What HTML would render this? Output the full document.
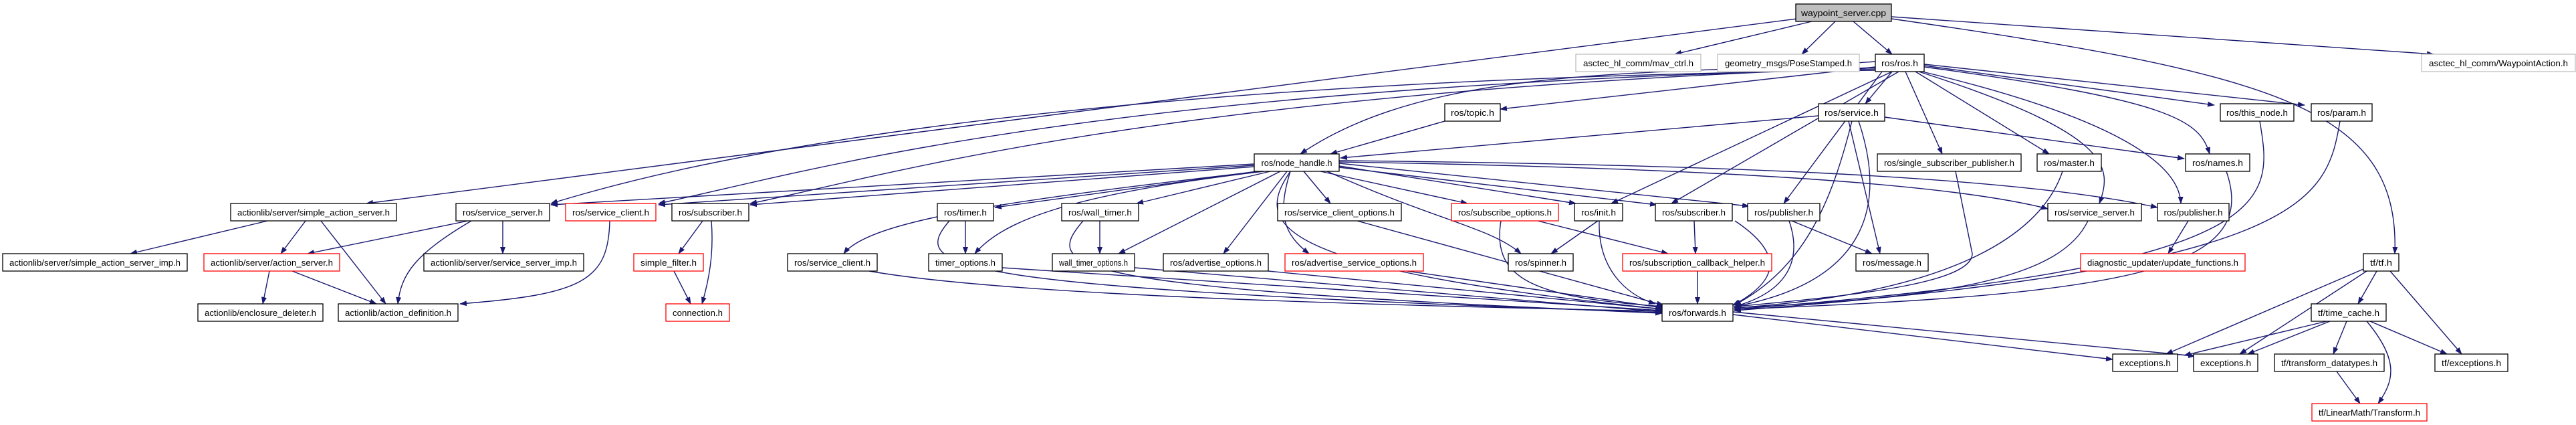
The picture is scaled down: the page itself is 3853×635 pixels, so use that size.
<!DOCTYPE html>
<html><head><meta charset="utf-8"><style>
html,body{margin:0;padding:0;background:#fff;}
svg{display:block;}
text{font-family:"Liberation Sans",sans-serif;font-size:13px;fill:#000;}
.e{fill:none;stroke:#191970;stroke-width:1.4;marker-end:url(#ar);}
.n{fill:#fff;stroke:#000;stroke-width:1.3;}
.r{fill:#fff;stroke:#ff0000;stroke-width:1.3;}
.g{fill:#fff;stroke:#bfbfbf;stroke-width:1.3;}
</style></head><body>
<svg width="3853" height="635" viewBox="0 0 3853 635" xmlns="http://www.w3.org/2000/svg">
<defs><marker id="ar" markerWidth="11" markerHeight="8" refX="10" refY="4" orient="auto" markerUnits="userSpaceOnUse"><path d="M0,0 L11,4 L0,8 z" fill="#191970"/></marker></defs>
<g>
<!-- waypoint edges -->
<path class="e" d="M2688,28 L548,304"/>
<path class="e" d="M2710,32 L2505,81"/>
<path class="e" d="M2745,32 L2695,81"/>
<path class="e" d="M2772,32 L2830,81"/>
<path class="e" d="M2829,25 L3640,81"/>
<path class="e" d="M2829,28 C3400,110 3590,160 3582,379"/>
<!-- ros.h edges -->
<path class="e" d="M2805,100 L2244,163"/>
<path class="e" d="M2830,107 L2790,155"/>
<path class="e" d="M2878,98 L3312,157"/>
<path class="e" d="M2878,96 L3447,157"/>
<path class="e" d="M2805,92 C2500,115 2150,90 1945,230"/>
<path class="e" d="M2850,107 L2905,230"/>
<path class="e" d="M2865,107 L3065,230"/>
<path class="e" d="M2878,100 C3250,150 3290,180 3305,230"/>
<path class="e" d="M2830,107 L2410,304"/>
<path class="e" d="M2840,107 L2500,304"/>
<path class="e" d="M2815,107 L2668,304"/>
<path class="e" d="M2870,107 C3160,200 3160,250 3140,304"/>
<path class="e" d="M2875,107 C3180,180 3260,250 3262,304"/>
<path class="e" d="M2805,105 C1500,120 1000,250 824,304"/>
<path class="e" d="M2805,103 C1600,130 1200,260 985,304"/>
<path class="e" d="M2805,101 C1700,140 1300,270 1122,304"/>
<!-- service/topic -->
<path class="e" d="M2720,173 L2005,236"/>
<path class="e" d="M2819,175 L3267,237"/>
<path class="e" d="M2765,181 L2812,379"/>
<path class="e" d="M2770,181 C2740,300 2700,400 2594,456"/>
<path class="e" d="M2780,181 C2820,300 2800,420 2594,458"/>
<path class="e" d="M2161,181 L1990,230"/>
<path class="e" d="M3380,181 C3400,300 3420,400 2594,462"/>
<path class="e" d="M3500,181 C3480,300 3450,400 2594,464"/>
<path class="e" d="M2925,256 L2950,379 C2950,420 2800,440 2594,458"/>
<path class="e" d="M3085,256 C3050,360 2900,440 2594,460"/>
<path class="e" d="M3330,256 C3380,400 3200,440 2594,462"/>
<!-- node_handle edges -->
<path class="e" d="M1876,245 L824,306"/>
<path class="e" d="M1876,247 L985,306"/>
<path class="e" d="M1876,249 L1122,306"/>
<path class="e" d="M1885,256 C1500,300 1300,330 1262,379"/>
<path class="e" d="M1880,256 L1488,310"/>
<path class="e" d="M1890,256 C1600,290 1500,330 1458,379"/>
<path class="e" d="M1900,256 L1700,304"/>
<path class="e" d="M1915,256 L1673,379"/>
<path class="e" d="M1925,256 L1830,379"/>
<path class="e" d="M1930,256 C1910,320 1920,350 1958,379"/>
<path class="e" d="M1950,256 L1990,304"/>
<path class="e" d="M1975,256 L2195,304"/>
<path class="e" d="M2003,248 L2357,304"/>
<path class="e" d="M2003,250 L2478,306"/>
<path class="e" d="M2003,244 L2616,308"/>
<path class="e" d="M2003,242 C2500,250 2900,270 3063,312"/>
<path class="e" d="M2003,240 C2500,245 3000,260 3227,310"/>
<path class="e" d="M1985,256 C2150,330 2230,340 2275,379"/>
<path class="e" d="M1930,256 C1880,330 1880,400 2488,462"/>
<!-- left subgraph -->
<path class="e" d="M400,330 L195,379"/>
<path class="e" d="M457,330 L420,379"/>
<path class="e" d="M480,330 L577,454"/>
<path class="e" d="M700,330 L460,379"/>
<path class="e" d="M705,330 C620,380 600,410 595,454"/>
<path class="e" d="M752,330 L752,379"/>
<path class="e" d="M912,330 C910,420 870,440 688,454"/>
<path class="e" d="M1051,330 L1015,379"/>
<path class="e" d="M1064,330 C1068,380 1060,420 1050,454"/>
<path class="e" d="M1008,405 L1033,454"/>
<path class="e" d="M403,405 L393,454"/>
<path class="e" d="M437,405 L563,454"/>
<!-- row4/5 to forwards -->
<path class="e" d="M1300,405 C1500,440 2000,455 2486,465"/>
<path class="e" d="M1420,330 C1360,400 1400,430 2486,467"/>
<path class="e" d="M1444,330 L1444,379"/>
<path class="e" d="M1499,400 L2486,464"/>
<path class="e" d="M1620,330 C1560,400 1580,430 2486,468"/>
<path class="e" d="M1645,330 L1645,379"/>
<path class="e" d="M1697,400 L2486,466"/>
<path class="e" d="M1897,405 L2486,462"/>
<path class="e" d="M2105,405 L2488,460"/>
<path class="e" d="M2030,330 L2488,456"/>
<path class="e" d="M2245,330 C2230,420 2300,445 2488,458"/>
<path class="e" d="M2300,330 L2495,379"/>
<path class="e" d="M2390,330 L2320,379"/>
<path class="e" d="M2392,330 C2390,400 2430,440 2476,454"/>
<path class="e" d="M2534,330 L2536,379"/>
<path class="e" d="M2539,405 L2539,454"/>
<path class="e" d="M2595,330 C2670,380 2660,420 2592,456"/>
<path class="e" d="M2680,330 L2800,379"/>
<path class="e" d="M2676,330 C2700,400 2660,440 2594,458"/>
<path class="e" d="M3123,330 C3080,420 2900,445 2594,460"/>
<path class="e" d="M3273,330 L3243,379"/>
<!-- forwards / tf -->
<path class="e" d="M2592,470 L3160,537"/>
<path class="e" d="M2592,466 L3283,532"/>
<path class="e" d="M3555,405 L3527,454"/>
<path class="e" d="M3535,402 L3240,529"/>
<path class="e" d="M3540,405 L3350,529"/>
<path class="e" d="M3575,405 L3682,529"/>
<path class="e" d="M3480,480 L3267,531"/>
<path class="e" d="M3485,480 L3362,529"/>
<path class="e" d="M3510,480 L3490,529"/>
<path class="e" d="M3545,480 L3660,529"/>
<path class="e" d="M3540,480 C3590,540 3580,570 3557,603"/>
<path class="e" d="M3495,555 L3530,603"/>
</g>
<g>
<rect x="2686" y="6" width="143" height="26" fill="#bfbfbf" stroke="#000" stroke-width="1.3"/><text x="2757.5" y="24" text-anchor="middle" textLength="127" lengthAdjust="spacingAndGlyphs">waypoint_server.cpp</text>
<rect class="g" x="2357" y="81" width="187" height="26"/><text x="2450.5" y="99" text-anchor="middle" textLength="165" lengthAdjust="spacingAndGlyphs">asctec_hl_comm/mav_ctrl.h</text>
<rect class="g" x="2569" y="81" width="212" height="26"/><text x="2675" y="99" text-anchor="middle" textLength="190" lengthAdjust="spacingAndGlyphs">geometry_msgs/PoseStamped.h</text>
<rect class="n" x="2805" y="81" width="73" height="26"/><text x="2841.5" y="99" text-anchor="middle" textLength="55" lengthAdjust="spacingAndGlyphs">ros/ros.h</text>
<rect class="g" x="3622" y="81" width="230" height="26"/><text x="3737" y="99" text-anchor="middle" textLength="208" lengthAdjust="spacingAndGlyphs">asctec_hl_comm/WaypointAction.h</text>
<rect class="n" x="2161" y="155" width="83" height="26"/><text x="2202.5" y="173" text-anchor="middle" textLength="65" lengthAdjust="spacingAndGlyphs">ros/topic.h</text>
<rect class="n" x="2720" y="155" width="99" height="26"/><text x="2769.5" y="173" text-anchor="middle" textLength="81" lengthAdjust="spacingAndGlyphs">ros/service.h</text>
<rect class="n" x="3321" y="155" width="110" height="26"/><text x="3376" y="173" text-anchor="middle" textLength="92" lengthAdjust="spacingAndGlyphs">ros/this_node.h</text>
<rect class="n" x="3457" y="155" width="91" height="26"/><text x="3502.5" y="173" text-anchor="middle" textLength="73" lengthAdjust="spacingAndGlyphs">ros/param.h</text>
<rect class="n" x="1876" y="230" width="127" height="26"/><text x="1939.5" y="248" text-anchor="middle" textLength="106" lengthAdjust="spacingAndGlyphs">ros/node_handle.h</text>
<rect class="n" x="2808" y="230" width="215" height="26"/><text x="2915.5" y="248" text-anchor="middle" textLength="195" lengthAdjust="spacingAndGlyphs">ros/single_subscriber_publisher.h</text>
<rect class="n" x="3047" y="230" width="96" height="26"/><text x="3095" y="248" text-anchor="middle" textLength="76" lengthAdjust="spacingAndGlyphs">ros/master.h</text>
<rect class="n" x="3269" y="230" width="96" height="26"/><text x="3317" y="248" text-anchor="middle" textLength="76" lengthAdjust="spacingAndGlyphs">ros/names.h</text>

<rect class="n" x="345" y="304" width="248" height="26"/><text x="469" y="322" text-anchor="middle" textLength="228" lengthAdjust="spacingAndGlyphs">actionlib/server/simple_action_server.h</text>
<rect class="n" x="682" y="304" width="140" height="26"/><text x="752" y="322" text-anchor="middle" textLength="120" lengthAdjust="spacingAndGlyphs">ros/service_server.h</text>
<rect class="r" x="846" y="304" width="135" height="26"/><text x="913.5" y="322" text-anchor="middle" textLength="115" lengthAdjust="spacingAndGlyphs">ros/service_client.h</text>
<rect class="n" x="1005" y="304" width="115" height="26"/><text x="1062.5" y="322" text-anchor="middle" textLength="95" lengthAdjust="spacingAndGlyphs">ros/subscriber.h</text>
<rect class="n" x="1402" y="304" width="84" height="26"/><text x="1444" y="322" text-anchor="middle" textLength="64" lengthAdjust="spacingAndGlyphs">ros/timer.h</text>
<rect class="n" x="1588" y="304" width="115" height="26"/><text x="1645.5" y="322" text-anchor="middle" textLength="95" lengthAdjust="spacingAndGlyphs">ros/wall_timer.h</text>
<rect class="n" x="1911" y="304" width="185" height="26"/><text x="2003.5" y="322" text-anchor="middle" textLength="165" lengthAdjust="spacingAndGlyphs">ros/service_client_options.h</text>
<rect class="r" x="2171" y="304" width="160" height="26"/><text x="2251" y="322" text-anchor="middle" textLength="140" lengthAdjust="spacingAndGlyphs">ros/subscribe_options.h</text>
<rect class="n" x="2355" y="304" width="72" height="26"/><text x="2391" y="322" text-anchor="middle" textLength="52" lengthAdjust="spacingAndGlyphs">ros/init.h</text>
<rect class="n" x="2476" y="304" width="115" height="26"/><text x="2533.5" y="322" text-anchor="middle" textLength="95" lengthAdjust="spacingAndGlyphs">ros/subscriber.h</text>
<rect class="n" x="2614" y="304" width="108" height="26"/><text x="2668" y="322" text-anchor="middle" textLength="88" lengthAdjust="spacingAndGlyphs">ros/publisher.h</text>
<rect class="n" x="3063" y="304" width="140" height="26"/><text x="3133" y="322" text-anchor="middle" textLength="120" lengthAdjust="spacingAndGlyphs">ros/service_server.h</text>
<rect class="n" x="3227" y="304" width="107" height="26"/><text x="3280.5" y="322" text-anchor="middle" textLength="88" lengthAdjust="spacingAndGlyphs">ros/publisher.h</text>

<rect class="n" x="4" y="379" width="276" height="26"/><text x="142" y="397" text-anchor="middle" textLength="256" lengthAdjust="spacingAndGlyphs">actionlib/server/simple_action_server_imp.h</text>
<rect class="r" x="305" y="379" width="203" height="26"/><text x="406.5" y="397" text-anchor="middle" textLength="183" lengthAdjust="spacingAndGlyphs">actionlib/server/action_server.h</text>
<rect class="n" x="634" y="379" width="239" height="26"/><text x="753.5" y="397" text-anchor="middle" textLength="219" lengthAdjust="spacingAndGlyphs">actionlib/server/service_server_imp.h</text>
<rect class="r" x="948" y="379" width="104" height="26"/><text x="1000" y="397" text-anchor="middle" textLength="84" lengthAdjust="spacingAndGlyphs">simple_filter.h</text>
<rect class="n" x="1178" y="379" width="134" height="26"/><text x="1245" y="397" text-anchor="middle" textLength="114" lengthAdjust="spacingAndGlyphs">ros/service_client.h</text>
<rect class="n" x="1389" y="379" width="110" height="26"/><text x="1444" y="397" text-anchor="middle" textLength="90" lengthAdjust="spacingAndGlyphs">timer_options.h</text>
<rect class="n" x="1574" y="379" width="123" height="26"/><text x="1635.5" y="397" text-anchor="middle" textLength="103" lengthAdjust="spacingAndGlyphs">wall_timer_options.h</text>
<rect class="n" x="1740" y="379" width="157" height="26"/><text x="1818.5" y="397" text-anchor="middle" textLength="137" lengthAdjust="spacingAndGlyphs">ros/advertise_options.h</text>
<rect class="r" x="1922" y="379" width="207" height="26"/><text x="2025.5" y="397" text-anchor="middle" textLength="187" lengthAdjust="spacingAndGlyphs">ros/advertise_service_options.h</text>
<rect class="n" x="2256" y="379" width="97" height="26"/><text x="2304.5" y="397" text-anchor="middle" textLength="77" lengthAdjust="spacingAndGlyphs">ros/spinner.h</text>
<rect class="r" x="2427" y="379" width="223" height="26"/><text x="2538.5" y="397" text-anchor="middle" textLength="203" lengthAdjust="spacingAndGlyphs">ros/subscription_callback_helper.h</text>
<rect class="n" x="2776" y="379" width="108" height="26"/><text x="2830" y="397" text-anchor="middle" textLength="88" lengthAdjust="spacingAndGlyphs">ros/message.h</text>
<rect class="r" x="3112" y="379" width="246" height="26"/><text x="3235" y="397" text-anchor="middle" textLength="226" lengthAdjust="spacingAndGlyphs">diagnostic_updater/update_functions.h</text>
<rect class="n" x="3535" y="379" width="53" height="26"/><text x="3561.5" y="397" text-anchor="middle" textLength="33" lengthAdjust="spacingAndGlyphs">tf/tf.h</text>

<rect class="n" x="296" y="454" width="187" height="26"/><text x="389.5" y="472" text-anchor="middle" textLength="167" lengthAdjust="spacingAndGlyphs">actionlib/enclosure_deleter.h</text>
<rect class="n" x="506" y="454" width="179" height="26"/><text x="595.5" y="472" text-anchor="middle" textLength="159" lengthAdjust="spacingAndGlyphs">actionlib/action_definition.h</text>
<rect class="r" x="996" y="454" width="95" height="26"/><text x="1043.5" y="472" text-anchor="middle" textLength="75" lengthAdjust="spacingAndGlyphs">connection.h</text>
<rect class="n" x="2486" y="454" width="106" height="26"/><text x="2539" y="472" text-anchor="middle" textLength="86" lengthAdjust="spacingAndGlyphs">ros/forwards.h</text>
<rect class="n" x="3457" y="454" width="112" height="26"/><text x="3513" y="472" text-anchor="middle" textLength="92" lengthAdjust="spacingAndGlyphs">tf/time_cache.h</text>

<rect class="n" x="3160" y="529" width="97" height="26"/><text x="3208.5" y="547" text-anchor="middle" textLength="77" lengthAdjust="spacingAndGlyphs">exceptions.h</text>
<rect class="n" x="3281" y="529" width="96" height="26"/><text x="3329" y="547" text-anchor="middle" textLength="76" lengthAdjust="spacingAndGlyphs">exceptions.h</text>
<rect class="n" x="3402" y="529" width="164" height="26"/><text x="3484" y="547" text-anchor="middle" textLength="144" lengthAdjust="spacingAndGlyphs">tf/transform_datatypes.h</text>
<rect class="n" x="3642" y="529" width="109" height="26"/><text x="3696.5" y="547" text-anchor="middle" textLength="89" lengthAdjust="spacingAndGlyphs">tf/exceptions.h</text>
<rect class="r" x="3458" y="603" width="172" height="26"/><text x="3544" y="621" text-anchor="middle" textLength="152" lengthAdjust="spacingAndGlyphs">tf/LinearMath/Transform.h</text>
</g>
</svg>
</body></html>
